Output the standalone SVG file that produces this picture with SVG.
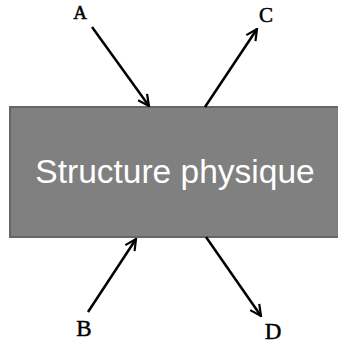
<svg xmlns="http://www.w3.org/2000/svg" width="338" height="345" viewBox="0 0 338 345">
<style>
.lbl{font-family:"Liberation Serif","Times New Roman",serif;font-weight:normal;fill:#000;stroke:#000;stroke-width:0.5;text-anchor:middle}
.conn{stroke:#000;stroke-width:2.5;fill:none;marker-end:url(#ah)}
</style>
<defs>
<marker id="ah" viewBox="0 0 10 10" refX="9" refY="5" markerWidth="5.5" markerHeight="5.5" orient="auto" markerUnits="strokeWidth">
<path d="M1,1 L9,5 L1,9" fill="none" stroke="#000" stroke-width="1.6" stroke-linejoin="miter"/>
</marker>
</defs>
<rect width="338" height="345" fill="#fff"/>
<g id="structure">
<rect x="10" y="107" width="332" height="130" fill="#808080" stroke="#666" stroke-width="2"/>
<text x="175" y="183" font-family="'Liberation Sans',Arial,sans-serif" font-size="33.5" fill="#fff" text-anchor="middle">Structure physique</text>
</g>
<g id="connectors">
<line class="conn" x1="92" y1="27" x2="149" y2="106"/>
<line class="conn" x1="205" y1="107" x2="257" y2="29"/>
<line class="conn" x1="88" y1="312" x2="136" y2="239"/>
<line class="conn" x1="206" y1="237" x2="261" y2="316"/>
</g>
<g id="A"><text class="lbl" x="80" y="19" font-size="19">A</text></g>
<g id="C"><text class="lbl" x="266" y="22" font-size="21">C</text></g>
<g id="B"><text class="lbl" x="84" y="336" font-size="23">B</text></g>
<g id="D"><text class="lbl" x="273" y="339" font-size="23">D</text></g>
</svg>
